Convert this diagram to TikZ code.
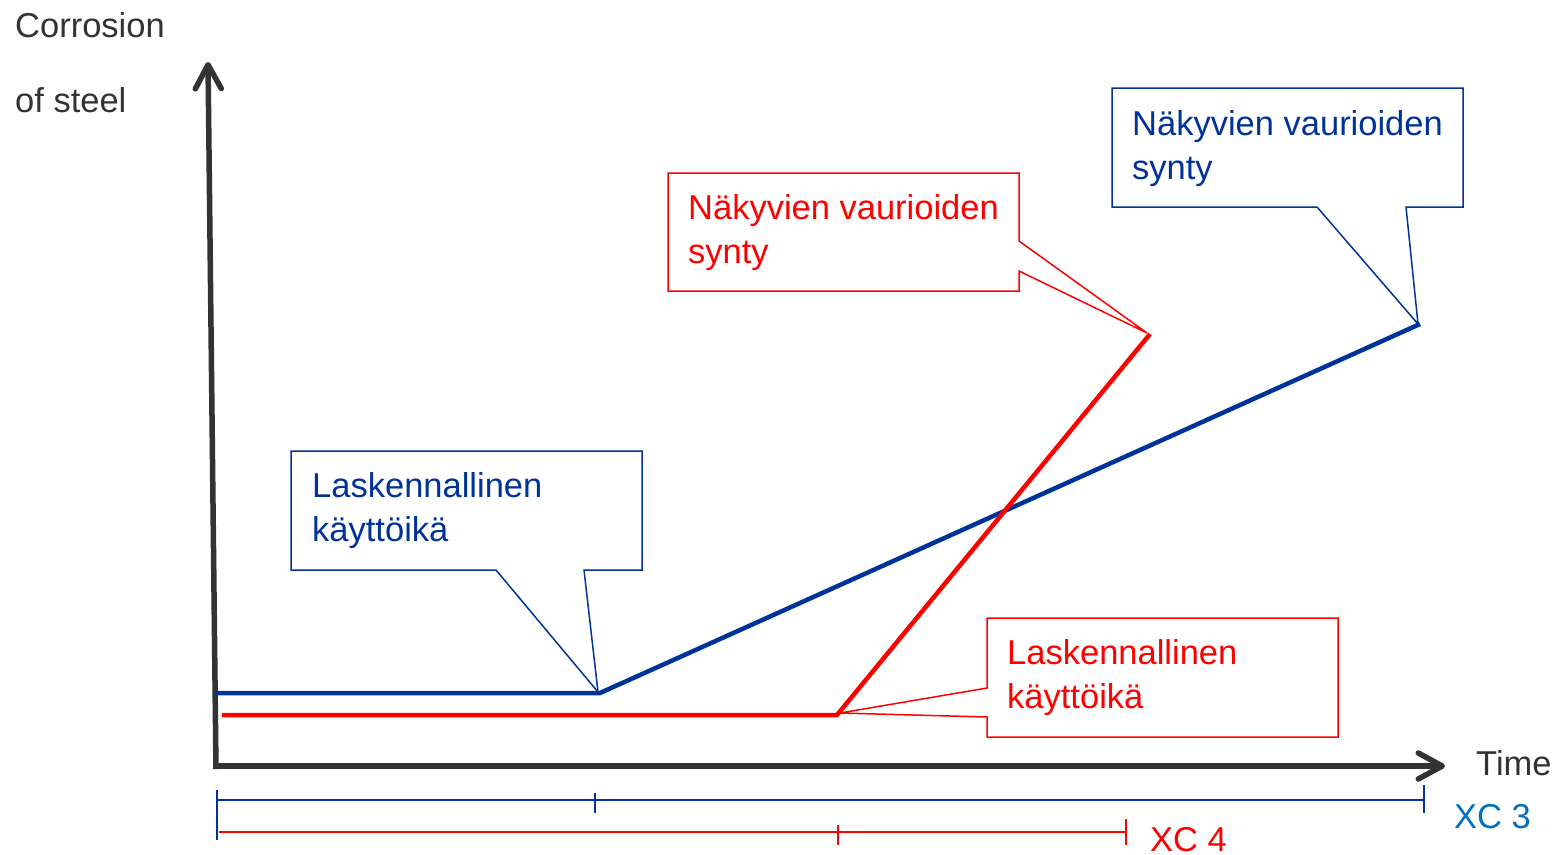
\documentclass[tikz,border=0pt]{standalone}
\usepackage{fontspec}
\setmainfont{Liberation Sans}
\usetikzlibrary{arrows.meta}
\definecolor{cblue}{RGB}{0,51,153}
\definecolor{cxc}{RGB}{0,112,192}
\definecolor{cgray}{RGB}{51,51,51}
\definecolor{cred}{RGB}{255,0,0}
\tikzset{
  lbl/.style={anchor=base west, inner sep=0pt, align=left, font=\fontsize{34.5}{44}\selectfont},
  axisline/.style={draw=cgray, line width=5.5pt, line join=round, -{Straight Barb[length=24pt, width=26pt, line cap=round, line join=round]}},
  curveline/.style={line width=4.5pt, line join=miter},
  callout/.style={line width=1.5pt, line join=miter, fill=white},
  scalebar/.style={line width=2pt},
}
\begin{document}
\begin{tikzpicture}[x=1pt, y=-1pt]
\useasboundingbox (0,0) rectangle (1557,854);
% axes
\coordinate (O) at (216,769);
\coordinate (Ytop) at (208,62);
\coordinate (Xs) at (213,766);
\coordinate (Xend) at (1445,766);
\draw[axisline] (O) -- (Ytop);
\draw[axisline] (Xs) -- (Xend);
% curves
\coordinate (b0) at (216,693);
\coordinate (b1) at (600,693);
\coordinate (b2) at (1420,324);
\coordinate (r0) at (222,715);
\coordinate (r1) at (837,715);
\coordinate (r2) at (1150,334);
\draw[curveline, cblue] (b0) -- (b1) -- (b2);
\draw[curveline, cred] (r0) -- (r1) -- (r2);
% callouts
\draw[callout, draw=cblue] (291,451) -- (642,451) -- (642,570) -- (584,570) -- (598,692) -- (496,570) -- (291,570) -- cycle;
\draw[callout, draw=cred] (668,173) -- (1019,173) -- (1019,241) -- (1147,333) -- (1019,271) -- (1019,291) -- (668,291) -- cycle;
\draw[callout, draw=cblue] (1112,88) -- (1463,88) -- (1463,207) -- (1406,207) -- (1418,324) -- (1317,207) -- (1112,207) -- cycle;
\draw[callout, draw=cred] (987,618) -- (1338,618) -- (1338,737) -- (987,737) -- (987,717) -- (840,713) -- (987,688) -- cycle;
% callout texts (anchor at baseline of last line)
\node[lbl, text=cblue] (t1) at (312,541) {Laskennallinen\\käyttöikä};
\node[lbl, text=cred] (t2) at (688,263) {Näkyvien vaurioiden\\synty};
\node[lbl, text=cblue] (t3) at (1132,179) {Näkyvien vaurioiden\\synty};
\node[lbl, text=cred] (t4) at (1007,708) {Laskennallinen\\käyttöikä};
% axis labels
\node[lbl, text=cgray, font=\fontsize{34.5}{75}\selectfont] (ylab) at (15,112) {Corrosion\\of steel};
\node[lbl, text=cgray] (xlab) at (1476,775) {Time};
% scale bars
\coordinate (sb0) at (217,800);
\coordinate (sb1) at (595,800);
\coordinate (sb2) at (1424,800);
\coordinate (sr0) at (219,832);
\coordinate (sr1) at (838,832);
\coordinate (sr2) at (1126,832);
\draw[scalebar, cblue] (sb0) -- (sb2);
\draw[scalebar, cblue] (217,790) -- (217,840);
\draw[scalebar, cblue] (595,793) -- (595,813);
\draw[scalebar, cblue] (1424,785) -- (1424,813);
\draw[scalebar, cred] (sr0) -- (sr2);
\draw[scalebar, cred] (838,825) -- (838,845);
\draw[scalebar, cred] (1126,819) -- (1126,845);
\node[lbl, text=cxc] (xc3) at (1454,828) {XC 3};
\node[lbl, text=cred] (xc4) at (1150,851) {XC 4};
\end{tikzpicture}
\end{document}
